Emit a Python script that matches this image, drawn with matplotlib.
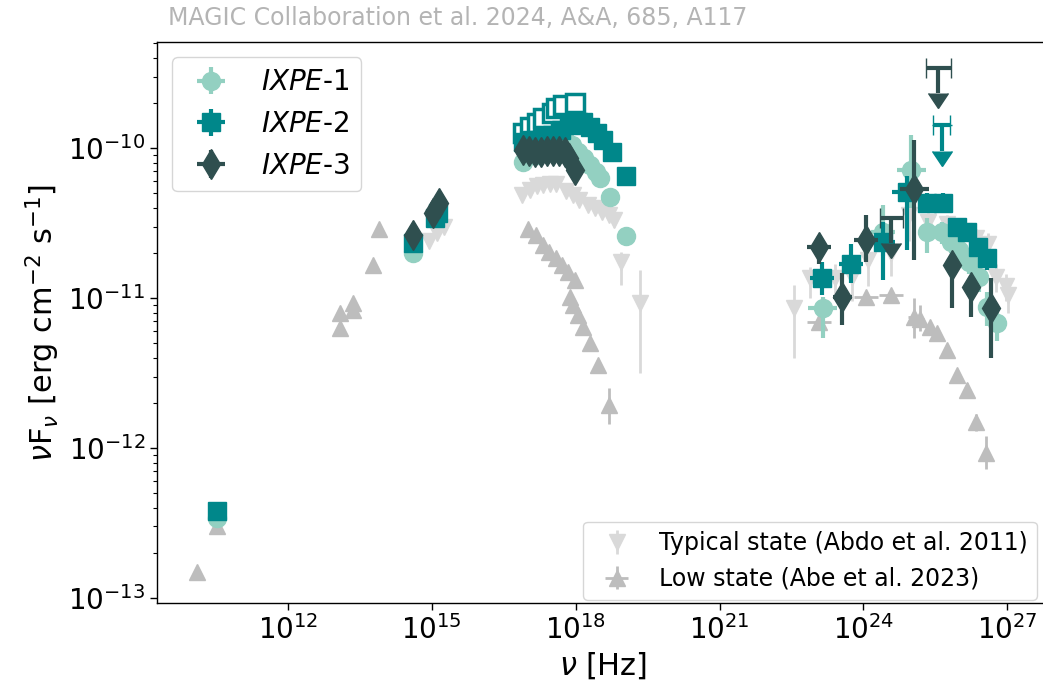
import numpy as np
import matplotlib
matplotlib.use("Agg")
import matplotlib.pyplot as plt
from matplotlib import ticker

# ---------------- data (log10 nu [Hz], nuFnu [erg cm-2 s-1]) ----------------
# IXPE-1 (radio / optical / X-ray, no visible errors)
ixpe1_lognu = [10.52, 14.60, 15.10, 16.90, 17.20, 17.50, 17.77, 17.92, 18.04,
               18.17, 18.29, 18.42, 18.50, 18.71, 19.04]
ixpe1_flux = [3.4e-13, 2.0e-11, 3.6e-11, 8.1e-11, 9.0e-11, 1.0e-10, 1.13e-10,
              1.05e-10, 9.4e-11, 8.6e-11, 7.7e-11, 6.9e-11, 6.3e-11, 4.71e-11, 2.59e-11]
# IXPE-1 gamma rays
g1_lognu = [23.15, 24.40, 25.00, 25.33, 25.63, 25.83, 26.00, 26.21, 26.42, 26.58, 26.79]
g1_flux = [8.6e-12, 2.75e-11, 7.1e-11, 2.75e-11, 2.75e-11, 2.36e-11, 2.09e-11,
           1.74e-11, 1.38e-11, 8.7e-12, 6.8e-12]
g1_lo = [5.4e-12, 1.9e-11, 4.0e-11, 2.0e-11, 2.3e-11, 2.0e-11, 1.75e-11,
         1.45e-11, 1.1e-11, 6.5e-12, 5.2e-12]
g1_hi = [1.02e-11, 4.2e-11, 1.22e-10, 3.4e-11, 3.2e-11, 2.75e-11, 2.45e-11,
         2.05e-11, 1.7e-11, 1.1e-11, 8.5e-12]
g1_dx = [0.3, 0.25, 0.3, 0.05, 0.05, 0.05, 0.05, 0.05, 0.05, 0.05, 0.05]

# IXPE-2
ixpe2_lognu = [10.52, 14.60, 15.06, 15.12, 16.90, 17.10, 17.30, 17.50, 17.70,
               17.90, 18.04, 18.15, 18.29, 18.44, 18.56, 18.75, 19.04]
ixpe2_flux = [3.8e-13, 2.33e-11, 3.4e-11, 3.7e-11, 1.1e-10, 1.13e-10, 1.17e-10,
              1.22e-10, 1.32e-10, 1.42e-10, 1.5e-10, 1.49e-10, 1.38e-10, 1.26e-10,
              1.13e-10, 9.4e-11, 6.5e-11]
ixpe2_open_lognu = [16.90, 17.04, 17.19, 17.31, 17.50, 17.60, 17.73, 17.98]
ixpe2_open_flux = [1.26e-10, 1.38e-10, 1.47e-10, 1.585e-10, 1.71e-10, 1.85e-10,
                   1.94e-10, 2.0e-10]
g2_lognu = [23.13, 23.75, 24.40, 24.90, 25.33, 25.65, 25.96, 26.17, 26.38, 26.58]
g2_flux = [1.36e-11, 1.7e-11, 2.36e-11, 5.1e-11, 4.3e-11, 4.3e-11, 3.0e-11,
           2.75e-11, 2.2e-11, 1.84e-11]
g2_lo = [1.05e-11, 1.26e-11, 1.32e-11, 2.1e-11, 3.7e-11, 3.7e-11, 2.6e-11,
         2.4e-11, 1.9e-11, 1.55e-11]
g2_hi = [1.75e-11, 2.3e-11, 3.2e-11, 6.5e-11, 5.0e-11, 5.0e-11, 3.4e-11,
         3.1e-11, 2.5e-11, 2.1e-11]
g2_dx = [0.25, 0.25, 0.25, 0.3, 0.05, 0.05, 0.05, 0.05, 0.05, 0.05]
ul2_lognu = [25.63]
ul2_flux = [1.42e-10]
ul2_dx = [0.17]

# IXPE-3
ixpe3_lognu = [14.60, 15.02, 15.15, 16.90, 17.02, 17.15, 17.27, 17.40, 17.52,
               17.65, 17.77, 17.87, 17.98]
ixpe3_flux = [2.63e-11, 3.7e-11, 4.3e-11, 9.7e-11, 9.5e-11, 9.4e-11, 9.4e-11,
              9.5e-11, 9.6e-11, 9.5e-11, 9.4e-11, 8.6e-11, 7.1e-11]
g3_lognu = [23.08, 23.56, 24.06, 25.06, 25.85, 26.25, 26.65]
g3_flux = [2.2e-11, 1.02e-11, 2.44e-11, 5.3e-11, 1.66e-11, 1.18e-11, 8.6e-12]
g3_lo = [1.7e-11, 6.6e-12, 1.74e-11, 1.79e-11, 8.6e-12, 7.5e-12, 4.0e-12]
g3_hi = [2.6e-11, 1.47e-11, 3.6e-11, 1.13e-10, 2.0e-11, 1.4e-11, 1.36e-11]
g3_dx = [0.25, 0.2, 0.25, 0.3, 0.05, 0.05, 0.05]
ul3_lognu = [24.58, 25.56]
ul3_flux = [3.41e-11, 3.42e-10]
ul3_dx = [0.24, 0.26]

# Typical state (Abdo et al. 2011)
typ_lognu = [14.95, 15.10, 15.25, 16.88, 17.04, 17.19, 17.31, 17.46, 17.58, 17.79,
             17.94, 18.08, 18.25, 18.40, 18.54, 18.69, 18.79, 18.94, 19.35, 22.56,
             22.88, 23.40, 23.77, 24.10, 24.58, 24.96, 25.35, 25.75, 26.10, 26.35,
             26.60, 26.77, 26.98, 27.02]
typ_flux = [2.4e-11, 2.7e-11, 3.0e-11, 4.86e-11, 5.25e-11, 5.6e-11, 5.7e-11, 5.8e-11,
            5.8e-11, 5.2e-11, 4.9e-11, 4.5e-11, 4.2e-11, 4.0e-11, 3.75e-11, 3.6e-11,
            3.3e-11, 1.74e-11, 9.3e-12, 8.6e-12, 1.36e-11, 1.36e-11, 1.38e-11, 1.8e-11,
            2.0e-11, 3.6e-11, 3.2e-11, 3.1e-11, 2.8e-11, 2.5e-11, 2.3e-11, 1.38e-11,
            1.2e-11, 1.05e-11]
typ_lo = [2.4e-11, 2.7e-11, 3.0e-11, 4.86e-11, 5.25e-11, 5.6e-11, 5.7e-11, 5.8e-11,
          5.8e-11, 5.2e-11, 4.9e-11, 4.5e-11, 4.2e-11, 4.0e-11, 3.75e-11, 3.4e-11,
          3.0e-11, 1.22e-11, 3.16e-12, 4.0e-12, 1.0e-11, 1.0e-11, 9.5e-12, 1.2e-11,
          1.4e-11, 2.4e-11, 2.7e-11, 2.6e-11, 2.4e-11, 2.1e-11, 1.9e-11, 1.1e-11,
          9.5e-12, 8.0e-12]
typ_hi = [2.4e-11, 2.7e-11, 3.0e-11, 4.86e-11, 5.25e-11, 5.6e-11, 5.7e-11, 5.8e-11,
          5.8e-11, 5.2e-11, 4.9e-11, 4.5e-11, 4.2e-11, 4.0e-11, 3.75e-11, 3.8e-11,
          3.6e-11, 2.03e-11, 1.54e-11, 1.22e-11, 1.6e-11, 1.7e-11, 1.8e-11, 2.4e-11,
          2.6e-11, 4.5e-11, 3.7e-11, 3.6e-11, 3.2e-11, 2.9e-11, 2.7e-11, 1.7e-11,
          1.45e-11, 1.3e-11]

# Low state (Abe et al. 2023)
low_lognu = [10.10, 10.52, 13.08, 13.08, 13.35, 13.35, 13.77, 13.90, 17.00, 17.17,
             17.31, 17.44, 17.58, 17.71, 17.83, 17.98, 17.88, 17.94, 18.04, 18.15,
             18.29, 18.46, 18.69, 23.08, 24.06, 24.58, 25.06, 25.17, 25.38, 25.54,
             25.75, 25.96, 26.17, 26.35, 26.56]
low_flux = [1.5e-13, 3.0e-13, 7.9e-12, 6.3e-12, 8.3e-12, 9.3e-12, 1.66e-11, 2.88e-11,
            2.88e-11, 2.63e-11, 2.26e-11, 2.03e-11, 1.84e-11, 1.66e-11, 1.49e-11,
            1.32e-11, 1.02e-11, 9.0e-12, 7.7e-12, 6.4e-12, 5.0e-12, 3.57e-12, 1.94e-12,
            6.9e-12, 1.02e-11, 1.05e-11, 7.5e-12, 7.3e-12, 6.4e-12, 5.85e-12, 4.5e-12,
            3.07e-12, 2.44e-12, 1.49e-12, 9.3e-13]
low_lo = [1.5e-13, 3.0e-13, 7.9e-12, 6.3e-12, 8.3e-12, 9.3e-12, 1.66e-11, 2.88e-11,
          2.88e-11, 2.63e-11, 2.26e-11, 2.03e-11, 1.84e-11, 1.66e-11, 1.49e-11,
          1.32e-11, 1.02e-11, 9.0e-12, 7.7e-12, 6.4e-12, 5.0e-12, 3.57e-12, 1.45e-12,
          6.3e-12, 9.6e-12, 9.9e-12, 5.4e-12, 6.0e-12, 5.9e-12, 5.4e-12, 4.1e-12,
          2.8e-12, 2.2e-12, 1.3e-12, 7.2e-13]
low_hi = [1.5e-13, 3.0e-13, 7.9e-12, 6.3e-12, 8.3e-12, 9.3e-12, 1.66e-11, 2.88e-11,
          2.88e-11, 2.63e-11, 2.26e-11, 2.03e-11, 1.84e-11, 1.66e-11, 1.49e-11,
          1.32e-11, 1.02e-11, 9.0e-12, 7.7e-12, 6.4e-12, 5.0e-12, 3.57e-12, 2.5e-12,
          7.5e-12, 1.08e-11, 1.12e-11, 1.0e-11, 9.0e-12, 6.9e-12, 6.3e-12, 4.9e-12,
          3.35e-12, 2.7e-12, 1.7e-12, 1.2e-12]
low_dx = [0, 0, 0, 0, 0, 0, 0, 0, 0, 0, 0, 0, 0, 0, 0, 0, 0, 0, 0, 0, 0, 0, 0,
          0.25, 0.25, 0.25, 0.12, 0.1, 0, 0, 0, 0, 0, 0, 0]

x_tick_exponents = [12, 15, 18, 21, 24, 27]
y_tick_exponents = [-13, -12, -11, -10]

# ---------------- styling ----------------
C1, C2, C3 = "#93d0c1", "#00878a", "#2f4f4f"
CT, CL = "#d9d9d9", "#bdbdbd"

plt.rcParams["font.family"] = ["DejaVu Sans"]
plt.rcParams["font.size"] = 20


def nu(lognu):
    return np.power(10.0, np.asarray(lognu, dtype=float))


def xerr_of(lognu, dx):
    lognu = np.asarray(lognu, float)
    dx = np.asarray(dx, float)
    x = nu(lognu)
    return [x - nu(lognu - dx), nu(lognu + dx) - x]


def yerr_of(y, lo, hi):
    y = np.asarray(y, float)
    return [y - np.asarray(lo, float), np.asarray(hi, float) - y]


fig = plt.figure(figsize=(10.43, 6.96), dpi=100)
ax = fig.add_axes([0.1505, 0.1336, 0.8555, 0.806])
ax.set_xscale("log")
ax.set_yscale("log")

# grey archival states
h_typ = ax.errorbar(nu(typ_lognu), typ_flux, yerr=yerr_of(typ_flux, typ_lo, typ_hi),
                    fmt="v", color=CT, ms=11, elinewidth=2, capsize=0, zorder=2,
                    label="Typical state (Abdo et al. 2011)")
h_low = ax.errorbar(nu(low_lognu), low_flux, xerr=xerr_of(low_lognu, low_dx),
                    yerr=yerr_of(low_flux, low_lo, low_hi),
                    fmt="^", color=CL, ms=11, elinewidth=2, capsize=0, zorder=3,
                    label="Low state (Abe et al. 2023)")

# IXPE-1
ax.plot(nu(ixpe1_lognu), ixpe1_flux, "o", color=C1, ms=13, zorder=4)
h1 = ax.errorbar(nu(g1_lognu), g1_flux, xerr=xerr_of(g1_lognu, g1_dx),
                 yerr=yerr_of(g1_flux, g1_lo, g1_hi), fmt="o", color=C1, ms=13,
                 elinewidth=3, capsize=0, zorder=4, label=r"$\it{IXPE}$-1")

# IXPE-2
ax.plot(nu(ixpe2_open_lognu), ixpe2_open_flux, "s", mfc="white", mec=C2, mew=2.5,
        ms=13, zorder=5)
ax.plot(nu(ixpe2_lognu), ixpe2_flux, "s", color=C2, ms=13, zorder=5)
h2 = ax.errorbar(nu(g2_lognu), g2_flux, xerr=xerr_of(g2_lognu, g2_dx),
                 yerr=yerr_of(g2_flux, g2_lo, g2_hi), fmt="s", color=C2, ms=13,
                 elinewidth=3, capsize=0, zorder=5, label=r"$\it{IXPE}$-2")
ul2 = np.asarray(ul2_flux)
ax.errorbar(nu(ul2_lognu), ul2_flux, xerr=xerr_of(ul2_lognu, ul2_dx), yerr=0.33 * ul2,
            uplims=True, fmt="none", color=C2, ecolor=C2, elinewidth=3, capsize=7,
            zorder=5)

# IXPE-3
ax.plot(nu(ixpe3_lognu), ixpe3_flux, "d", color=C3, ms=15, zorder=6)
h3 = ax.errorbar(nu(g3_lognu), g3_flux, xerr=xerr_of(g3_lognu, g3_dx),
                 yerr=yerr_of(g3_flux, g3_lo, g3_hi), fmt="d", color=C3, ms=15,
                 elinewidth=3, capsize=0, zorder=6, label=r"$\it{IXPE}$-3")
ul3 = np.asarray(ul3_flux)
ax.errorbar(nu(ul3_lognu), ul3_flux, xerr=xerr_of(ul3_lognu, ul3_dx), yerr=0.32 * ul3,
            uplims=True, fmt="none", color=C3, ecolor=C3, elinewidth=3, capsize=7,
            zorder=6)

# axes
ax.set_xlim(10 ** 9.27, 10 ** 27.875)
ax.set_ylim(10 ** -13.033, 10 ** -9.293)
ax.xaxis.set_major_locator(ticker.FixedLocator(nu(x_tick_exponents)))
ax.xaxis.set_minor_locator(ticker.NullLocator())
ax.yaxis.set_major_locator(ticker.FixedLocator(nu(y_tick_exponents)))
ax.yaxis.set_minor_locator(ticker.LogLocator(base=10, subs=np.arange(2, 10)))
ax.yaxis.set_minor_formatter(ticker.NullFormatter())
ax.tick_params(which="major", length=5, width=1, labelsize=20)
ax.tick_params(which="minor", length=3, width=0.8)
for s in ax.spines.values():
    s.set_linewidth(1.0)

ax.set_xlabel(r"$\nu$ [Hz]", fontsize=22)
ax.set_ylabel(r"$\nu$F$_\nu$ [erg cm$^{-2}$ s$^{-1}$]", fontsize=22)

leg1 = ax.legend(handles=[h1, h2, h3], loc="upper left", bbox_to_anchor=(0.017, 0.973),
                 borderaxespad=0, fontsize=20)
ax.add_artist(leg1)
ax.legend(handles=[h_typ, h_low], loc="lower right", bbox_to_anchor=(0.9865, 0.005),
          borderaxespad=0, fontsize=17)

fig.text(168 / 1043, 1 - 18 / 696, "MAGIC Collaboration et al. 2024, A&A, 685, A117",
         color="#b4b4b4", fontsize=17, ha="left", va="center")

fig.savefig("out.png", dpi=100)
